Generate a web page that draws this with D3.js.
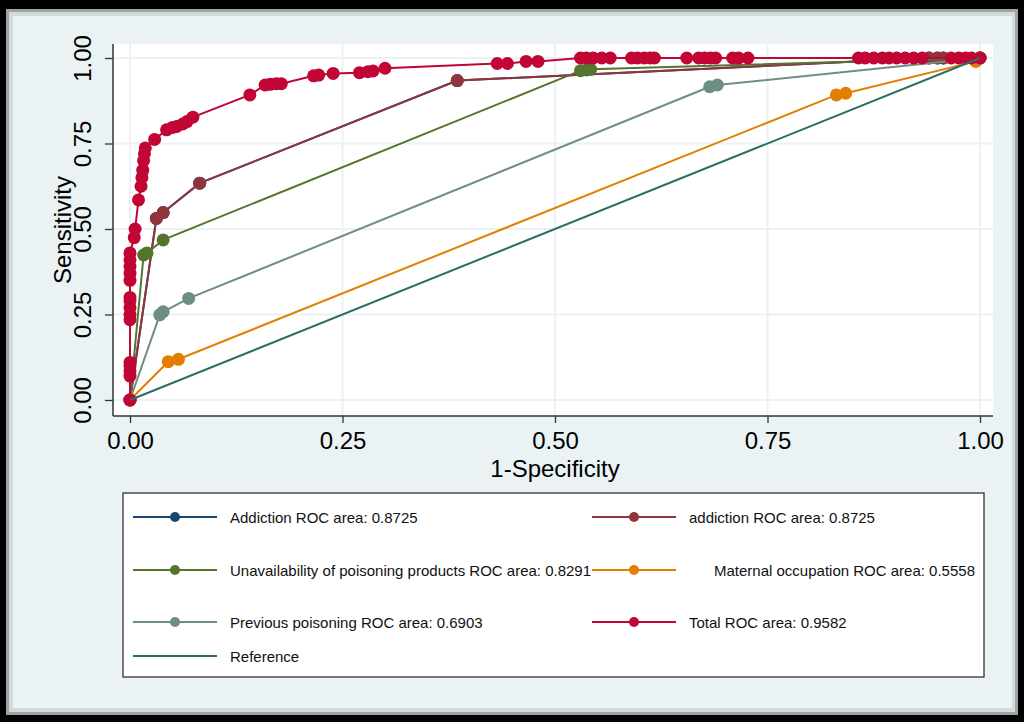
<!DOCTYPE html>
<html>
<head>
<meta charset="utf-8">
<script src="https://cdn.jsdelivr.net/npm/d3@7/dist/d3.min.js"></script>
<style>
  html, body { margin: 0; padding: 0; background: #000; }
  svg { display: block; }
</style>
</head>
<body>
<svg id="chart" width="1024" height="722"></svg>
<script>
// ---------------- DATA ----------------
const seriesNames = [
  "Addiction ROC area: 0.8725",
  "addiction ROC area: 0.8725",
  "Unavailability of poisoning products ROC area: 0.8291",
  "Maternal occupation ROC area: 0.5558",
  "Previous poisoning ROC area: 0.6903",
  "Total ROC area: 0.9582",
  "Reference"
];
const seriesColors = ["#1a476f", "#90353b", "#55752f", "#e37e00", "#6e8e84", "#c10534", "#2d6d66"];

// [1-specificity, sensitivity]
const addictionUpper = [[0,0],[0.031,0.531],[0.039,0.548],[0.082,0.634],[0.385,0.934],[0.94,1],[0.95,1],[0.957,1],[1,1]];
const addictionLower = [[0,0],[0.031,0.531],[0.039,0.548],[0.082,0.634],[0.385,0.934],[0.94,1],[0.95,1],[0.957,1],[1,1]];
const unavailability = [[0,0],[0.016,0.424],[0.02,0.43],[0.039,0.468],[0.53,0.963],[0.537,0.965],[0.542,0.967],[1,1]];
const maternal = [[0,0],[0.045,0.112],[0.057,0.119],[0.831,0.892],[0.842,0.897],[0.995,0.99],[1,1]];
const previousPoisoning = [[0,0],[0.035,0.249],[0.039,0.258],[0.069,0.297],[0.682,0.916],[0.691,0.921],[1,1]];
const total = [
  [0,0],[0,0.07],[0,0.085],[0,0.10],[0,0.11],
  [0,0.235],[0,0.25],[0,0.27],[0,0.29],[0,0.30],
  [0,0.35],[0,0.37],[0,0.39],[0,0.41],[0,0.43],
  [0.005,0.475],[0.006,0.50],[0.01,0.585],
  [0.013,0.625],[0.014,0.65],[0.015,0.672],[0.016,0.70],[0.017,0.72],[0.018,0.737],
  [0.029,0.762],[0.043,0.79],[0.05,0.797],[0.055,0.80],[0.062,0.807],[0.067,0.814],[0.074,0.827],
  [0.141,0.892],[0.159,0.921],[0.165,0.923],[0.172,0.925],[0.178,0.925],
  [0.216,0.948],[0.222,0.95],[0.239,0.955],[0.27,0.957],[0.28,0.96],[0.286,0.962],[0.30,0.97],
  [0.432,0.984],[0.444,0.984],[0.466,0.99],[0.48,0.99],
  [0.53,1],[0.537,1],[0.545,1],[0.555,1],[0.565,1],[0.59,1],[0.597,1],[0.605,1],[0.612,1],[0.617,1],
  [0.655,1],[0.669,1],[0.676,1],[0.683,1],[0.689,1],[0.709,1],[0.716,1],[0.727,1],
  [0.857,1],[0.865,1],[0.875,1],[0.885,1],[0.893,1],[0.902,1],[0.912,1],[0.922,1],[0.932,1],
  [0.966,1],[0.975,1],[0.983,1],[0.99,1],[1,1]
];
const reference = [[0,0],[1,1]];
const tickValues = [0, 0.25, 0.5, 0.75, 1];
const xTitle = "1-Specificity";
const yTitle = "Sensitivity";

// ---------------- DRAW ----------------
const svg = d3.select("#chart");
const FONT = "'Liberation Sans', Arial, sans-serif";

// outer frame
svg.append("rect").attr("x", 0).attr("y", 0).attr("width", 1024).attr("height", 722).attr("fill", "#000");
svg.append("rect").attr("x", 6).attr("y", 9).attr("width", 1012).attr("height", 706).attr("fill", "#9ea3a6");
svg.append("rect").attr("x", 9).attr("y", 12).attr("width", 1006).attr("height", 700).attr("fill", "#d3d9dc");
svg.append("rect").attr("x", 13).attr("y", 16).attr("width", 999).attr("height", 692).attr("fill", "#eaf2f3");

const x = d3.scaleLinear().domain([0, 1]).range([130, 980]);
const y = d3.scaleLinear().domain([0, 1]).range([400, 58]);

const plotLeft = 113, plotRight = 993, plotTop = 44, plotBottom = 416;

svg.append("rect").attr("x", plotLeft).attr("y", plotTop)
  .attr("width", plotRight - plotLeft).attr("height", plotBottom - plotTop).attr("fill", "#fff");

// gridlines
const grid = svg.append("g");
grid.selectAll("line.v").data(tickValues).join("line")
  .attr("x1", d => x(d)).attr("x2", d => x(d)).attr("y1", plotTop).attr("y2", plotBottom)
  .attr("stroke", "#eaf2f3").attr("stroke-width", 2);
grid.selectAll("line.h").data(tickValues).join("line")
  .attr("y1", d => y(d)).attr("y2", d => y(d)).attr("x1", plotLeft).attr("x2", plotRight)
  .attr("stroke", "#eaf2f3").attr("stroke-width", 2);

// axes
const fmt = d3.format(".2f");
const xAxis = svg.append("g").attr("transform", `translate(0,${plotBottom})`)
  .call(d3.axisBottom(x).tickValues(tickValues).tickFormat(fmt).tickSize(7).tickPadding(9));
xAxis.select(".domain").remove();
xAxis.selectAll(".tick line").attr("stroke", "#333").attr("stroke-width", 1.3);
xAxis.selectAll(".tick text").attr("font-family", FONT).attr("font-size", 24).attr("fill", "#000");

const yAxis = svg.append("g").attr("transform", `translate(${plotLeft},0)`)
  .call(d3.axisLeft(y).tickValues(tickValues).tickFormat(fmt).tickSize(8));
yAxis.select(".domain").remove();
yAxis.selectAll(".tick line").attr("stroke", "#333").attr("stroke-width", 1.3);
yAxis.selectAll(".tick text")
  .attr("x", 0).attr("dy", 0)
  .attr("transform", "translate(-22,0) rotate(-90)")
  .attr("text-anchor", "middle")
  .attr("font-family", FONT).attr("font-size", 24).attr("fill", "#000");

svg.append("line").attr("x1", plotLeft).attr("x2", plotLeft).attr("y1", plotTop).attr("y2", plotBottom)
  .attr("stroke", "#333").attr("stroke-width", 1.5);
svg.append("line").attr("x1", plotLeft).attr("x2", plotRight).attr("y1", plotBottom).attr("y2", plotBottom)
  .attr("stroke", "#333").attr("stroke-width", 1.5);

// titles
svg.append("text").attr("x", 555).attr("y", 477).attr("text-anchor", "middle")
  .attr("font-family", FONT).attr("font-size", 24).attr("fill", "#000").text(xTitle);
svg.append("text").attr("transform", "translate(71,230) rotate(-90)").attr("text-anchor", "middle")
  .attr("font-family", FONT).attr("font-size", 24).attr("fill", "#000").text(yTitle);

// series
const line = d3.line().x(d => x(d[0])).y(d => y(d[1]));
const seriesData = [addictionUpper, addictionLower, unavailability, maternal, previousPoisoning, total];
const plotG = svg.append("g");
seriesData.forEach((data, i) => {
  const g = plotG.append("g");
  g.append("path").datum(data).attr("d", line).attr("fill", "none")
    .attr("stroke", seriesColors[i]).attr("stroke-width", 2);
  g.selectAll("circle").data(data).join("circle")
    .attr("cx", d => x(d[0])).attr("cy", d => y(d[1])).attr("r", 6.5)
    .attr("fill", seriesColors[i]);
});
plotG.append("path").datum(reference).attr("d", line).attr("fill", "none")
  .attr("stroke", seriesColors[6]).attr("stroke-width", 2);

// legend
svg.append("rect").attr("x", 123).attr("y", 493).attr("width", 861).attr("height", 184)
  .attr("fill", "#fff").attr("stroke", "#333").attr("stroke-width", 1.3);

const legendItems = [
  { i: 0, lx: 133, ty: 517, tx: 230 },
  { i: 1, lx: 592, ty: 517, tx: 689 },
  { i: 2, lx: 133, ty: 570, tx: 230 },
  { i: 3, lx: 592, ty: 570, tx: 714 },
  { i: 4, lx: 133, ty: 622, tx: 230 },
  { i: 5, lx: 592, ty: 622, tx: 689 },
  { i: 6, lx: 133, ty: 656, tx: 230 }
];
const lg = svg.append("g");
legendItems.forEach(it => {
  const col = seriesColors[it.i];
  lg.append("line").attr("x1", it.lx).attr("x2", it.lx + 84).attr("y1", it.ty).attr("y2", it.ty)
    .attr("stroke", col).attr("stroke-width", 2);
  if (it.i !== 6) {
    lg.append("circle").attr("cx", it.lx + 42).attr("cy", it.ty).attr("r", 5).attr("fill", col);
  }
  lg.append("text").attr("x", it.tx).attr("y", it.ty + 5.5)
    .attr("font-family", FONT).attr("font-size", 15).attr("fill", "#111")
    .text(seriesNames[it.i]);
});
</script>
</body>
</html>
